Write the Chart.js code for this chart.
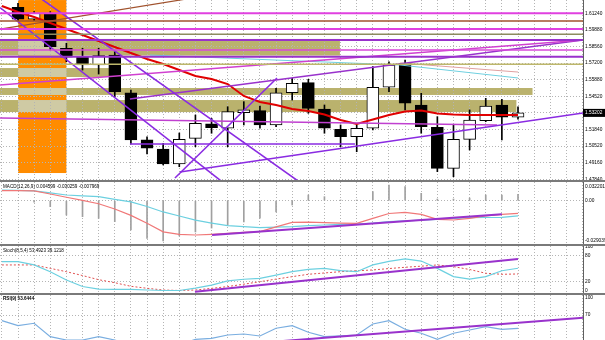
<!DOCTYPE html>
<html>
<head>
<meta charset="utf-8">
<script src="https://cdn.jsdelivr.net/npm/chart.js@4.4.1/dist/chart.umd.min.js"></script>
<style>
  html, body { margin: 0; padding: 0; background: #fff; }
  #wrap { position: relative; width: 605px; height: 340px; overflow: hidden; background: #fff; }
  #wrap canvas { position: absolute; left: 0; top: 0; }
  .sep { position: absolute; left: 0; width: 605px; height: 2px; background: #7a7a7a; }
  .lbl { position: absolute; left: 3px; font: 10px 'Liberation Sans', sans-serif; color: #000;
         white-space: nowrap; transform: scale(0.46, 0.55); transform-origin: left top; }
</style>
</head>
<body>
<div id="wrap">
  <canvas id="cMain" width="605" height="340"></canvas>
  <canvas id="cMacd" width="605" height="340"></canvas>
  <canvas id="cStoch" width="605" height="340"></canvas>
  <canvas id="cRsi" width="605" height="340"></canvas>
  <div class="sep" style="top:180px"></div>
  <div class="sep" style="top:244px"></div>
  <div class="sep" style="top:293px"></div>
  <div class="lbl" style="top:183px">MACD(12,26,9) 0.004599 -0.030259 -0.007969</div>
  <div class="lbl" style="top:247px">Stoch(8,5,4) 53.4923 39.1218</div>
  <div class="lbl" style="top:295px;font-weight:bold">RSI(9) 53.6444</div>
</div>
<script>
const XMIN = -1.116, XMAX = 35.03;

// candles, bar index 0..31
const opens  = [1.6172, 1.6076, 1.6124, 1.5842, 1.5769, 1.5707, 1.5787, 1.5483, 1.5102, 1.5029, 1.4908, 1.5115, 1.5231, 1.5196, 1.5322, 1.5338,
                1.5223, 1.5483, 1.5564, 1.5352, 1.5188, 1.5128, 1.5196, 1.5527, 1.5720, 1.5384, 1.5204, 1.4873, 1.5107, 1.5257, 1.5384, 1.5285];
const highs  = [1.6205, 1.6137, 1.6137, 1.5882, 1.5842, 1.5842, 1.5814, 1.5505, 1.5128, 1.5075, 1.5158, 1.5303, 1.5277, 1.5370, 1.5411, 1.5376,
                1.5519, 1.5599, 1.5591, 1.5384, 1.5223, 1.5223, 1.5693, 1.5733, 1.5747, 1.5478, 1.5290, 1.5223, 1.5344, 1.5438, 1.5430, 1.5370];
const lows   = [1.6064, 1.6064, 1.5828, 1.5733, 1.5666, 1.5634, 1.5451, 1.5069, 1.4989, 1.4900, 1.4886, 1.5047, 1.5156, 1.5047, 1.5223, 1.5196,
                1.5209, 1.5424, 1.5317, 1.5156, 1.5047, 1.5007, 1.5182, 1.5491, 1.5344, 1.5156, 1.4846, 1.4805, 1.5021, 1.5249, 1.5102, 1.5269];
const closes = [1.6076, 1.6124, 1.5854, 1.5769, 1.5707, 1.5782, 1.5491, 1.5102, 1.5035, 1.4908, 1.5107, 1.5236, 1.5201, 1.5330, 1.5344, 1.5223,
                1.5483, 1.5559, 1.5357, 1.5196, 1.5128, 1.5196, 1.5527, 1.5707, 1.5398, 1.5209, 1.4873, 1.5107, 1.5263, 1.5376, 1.5285, 1.53202];

// indicator series start one bar before the first candle (index -1 .. 31)
const maLine = [1.6183, 1.6134, 1.6094, 1.6046, 1.5997, 1.5949, 1.5900, 1.5852, 1.5804, 1.5755, 1.5715, 1.5666, 1.5618, 1.5594, 1.5553, 1.5457, 1.5408,
                1.5384, 1.5352, 1.5336, 1.5307, 1.5263, 1.5231, 1.5267, 1.5303, 1.5331, 1.5339, 1.5315, 1.5307, 1.5303, 1.5303, 1.5303, 1.5303];
const macdRed  = [0.0072, 0.0072, 0.0071, 0.0048, 0.0025, 0.0002, -0.0022, -0.0060, -0.0106, -0.0163, -0.0224, -0.0242, -0.0247, -0.0242, -0.0235, -0.0228, -0.0223,
                  -0.0189, -0.0156, -0.0154, -0.0158, -0.0161, -0.0163, -0.0127, -0.0092, -0.0084, -0.0098, -0.0134, -0.0139, -0.0127, -0.0110, -0.0098, -0.0091];
const macdCyan = [0.0076, 0.0074, 0.0071, 0.0056, 0.0041, 0.0035, 0.0029, 0.0010, -0.0009, -0.0042, -0.0081, -0.0110, -0.0140, -0.0161, -0.0180, -0.0187, -0.0194,
                  -0.0191, -0.0187, -0.0180, -0.0175, -0.0171, -0.0168, -0.0162, -0.0151, -0.0145, -0.0140, -0.0134, -0.0128, -0.0122, -0.0121, -0.0120, -0.0110];
// histogram, index 0..31
const macdHist = [0, -0.0010, -0.0043, -0.0103, -0.0115, -0.0127, -0.0151, -0.0211, -0.0271, -0.0290, -0.0254, -0.0225, -0.0197, -0.0175, -0.0153, -0.0125,
                  -0.0081, -0.0031, 0.0041, 0.0029, 0.0005, 0.0005, 0.0065, 0.0113, 0.0101, 0.0053, 0.0012, 0.0012, 0.0019, 0.0041, 0.0041, 0.0046];
const stochMain = [65.5, 65.5, 58, 42.7, 23.9, 9.1, 3, 2.7, 2.7, 1.1, 0, 0, 5.2, 12.3, 21.8, 25.5, 27.7,
                   34.8, 42.7, 48, 50.2, 45, 42.7, 58, 65.9, 71.6, 66.8, 50.2, 31.4, 25.7, 31.6, 44.8, 50.5];
const stochSignal = [58, 58, 58, 50.2, 42.7, 33.9, 24.5, 17.7, 9.5, 5, 1.1, 0, 1.1, 4.8, 8.9, 14.3, 20,
                     25.9, 31.4, 36.8, 39.8, 42.7, 44.8, 46.6, 49.8, 52.7, 55.2, 58, 54.1, 47.7, 39.1, 36.8, 37.5];
const rsiLine = [60.5, 51.9, 56, 33.2, 27.6, 27.6, 33.2, 27.6, 18, 14, 11, 19, 28.8, 30.5, 36.1, 37.8, 34.4,
                 47.5, 51.9, 40.7, 33.4, 34.7, 36.1, 54.8, 60.4, 45.8, 39, 28.8, 39, 44.6, 50.2, 45.8, 47.5];

// chart objects on the price panel
const levelPrices = [1.6124, 1.6062, 1.5997, 1.5955, 1.5909, 1.5828, 1.5774, 1.5712];
const levelColors = ['#e040e0', '#a0522d', '#e040e0', '#8c8c5e', '#9932cc', '#d848d8', '#9932cc', '#bdb76b'];
// [x1, price1, x2, price2] in bar index units
const trendLines = [
  [-1.116, 1.6170, 14.1, 1.4617],
  [-1.116, 1.6477, 19.03, 1.4617],
  [-1.116, 1.5997, 15.0, 1.6335],
  [-1.116, 1.5545, 35.03, 1.5908],
  [6.94, 1.5432, 35.03, 1.5908],
  [9.73, 1.4795, 16.06, 1.5602],
  [10.04, 1.4843, 35.03, 1.5319],
  [6.94, 1.5069, 20.89, 1.5069],
  [-1.116, 1.5279, 29.7, 1.5223],
  [23.68, 1.5723, 31, 1.5650]
];
const trendColors = ['#8a2be2', '#8a2be2', '#a0522d', '#d040d0', '#9932cc', '#8a2be2', '#8a2be2', '#8a2be2', '#c040d0', '#e0a0a0'];
const trendWidths = [1.6, 1.6, 1.2, 1.6, 1.6, 1.6, 1.6, 1.6, 1.6, 1];
const cyanLineX = [8.18, 23.68, 31];
const cyanLineY = [1.5787, 1.5707, 1.5602];
// [x1, x2, top price, bottom price]
const bands = [
  [-1.116, 19.96, 1.5917, 1.5783],
  [-1.116, 6, 1.5682, 1.5610],
  [-1.116, 31.9, 1.5521, 1.5465],
  [-1.116, 30.9, 1.5424, 1.5327]
];
const orangeZone = [0, 3, 1.6231, 1.4835];

const priceTicks = [1.6124, 1.5990, 1.5856, 1.5722, 1.5588, 1.5454, 1.5320, 1.5186, 1.5052, 1.4918, 1.4784];
const priceTickLabels = ['1.61240', '1.59880', '1.58560', '1.57200', '1.55880', '1.54520', '', '1.51840', '1.50520', '1.49160', '1.47840'];
const macdTicks = [0.0101, 0, -0.0288];
const macdTickLabels = ['0.032201', '0.00', '-0.029039'];
const stochTicks = [100, 80, 20, 0];
const stochTickLabels = ['100', '80', '20', '0'];
const rsiTicks = [100, 70];
const rsiTickLabels = ['100', '70'];

const macdTrend = [12.03, -0.0247, 30.0, -0.0098];
const stochTrend = [10.97, -2.7, 31.0, 71.5];
const rsiTrend = [16.43, 25.9, 35.03, 65.5];

const TICK_FONT = { family: 'Liberation Sans', size: 4.8 };
const GRID = '#b4b4b4';

function series(arr) { return arr.map((v, i) => ({ x: i - 1, y: v })); }
function seg(t) { return [{ x: t[0], y: t[1] }, { x: t[2], y: t[3] }]; }
function lineDs(data, color, width, extra) {
  return Object.assign({ type: 'line', data, borderColor: color, borderWidth: width, pointRadius: 0,
    fill: false, tension: 0, order: 1 }, extra || {});
}

function xAxis() {
  return {
    type: 'linear', min: XMIN, max: XMAX, offset: false,
    afterBuildTicks: s => { const t = []; for (let i = -1; i <= 35; i++) t.push({ value: i }); s.ticks = t; },
    afterFit: s => { s.height = 0; s.paddingLeft = 0; s.paddingRight = 0; },
    ticks: { display: false },
    grid: { drawTicks: false, color: GRID, lineWidth: 1, offset: false },
    border: { display: false, dash: [1, 2] }
  };
}
function yAxis(min, max, ticks, labels, gridOn) {
  return {
    position: 'right', min, max,
    afterBuildTicks: s => { s.ticks = ticks.map(v => ({ value: v })); },
    afterFit: s => { s.width = 22; s.paddingTop = 0; s.paddingBottom = 0; },
    ticks: { autoSkip: false, padding: 2, color: '#000', font: TICK_FONT, callback: (v, i) => labels[i] },
    grid: { drawTicks: false, lineWidth: 1,
            color: c => (c.tick && gridOn.includes(c.tick.value)) ? GRID : 'rgba(0,0,0,0)' },
    border: { display: true, color: '#606060', width: 1, dash: [1, 2] }
  };
}
function makeChart(id, padTop, padBottom, yScale, datasets, plugins) {
  return new Chart(document.getElementById(id), {
    type: 'line',
    data: { datasets },
    options: {
      responsive: false, animation: false, events: [],
      layout: { padding: { top: padTop, bottom: padBottom, left: 0, right: 0 } },
      plugins: { legend: { display: false }, tooltip: { enabled: false } },
      scales: { x: xAxis(), y: yScale }
    },
    plugins: plugins || []
  });
}

// rectangles drawn under the grid
const zonesPlugin = {
  id: 'zones',
  beforeDraw(chart) {
    const { ctx, chartArea: a, scales: { x, y } } = chart;
    const rect = (x1, x2, p1, p2) => {
      const l = x.getPixelForValue(x1), r = x.getPixelForValue(x2);
      const t = y.getPixelForValue(p1), b = y.getPixelForValue(p2);
      return [l, t, r - l, b - t];
    };
    ctx.save();
    ctx.beginPath(); ctx.rect(a.left, a.top, a.right - a.left, a.bottom - a.top); ctx.clip();
    ctx.fillStyle = '#ff8c00';
    ctx.fillRect(...rect(orangeZone[0], orangeZone[1], orangeZone[2], orangeZone[3]));
    bands.forEach(b => {
      ctx.fillStyle = '#bab26d';
      ctx.fillRect(...rect(b[0], b[1], b[2], b[3]));
      const ox1 = Math.max(b[0], orangeZone[0]), ox2 = Math.min(b[1], orangeZone[1]);
      const ot = Math.min(b[2], orangeZone[2]), ob = Math.max(b[3], orangeZone[3]);
      if (ox2 > ox1 && ot > ob) {
        ctx.fillStyle = '#cfcaa4';
        ctx.fillRect(...rect(ox1, ox2, ot, ob));
      }
    });
    ctx.restore();
  }
};

// current price marker on the axis
const priceBox = {
  id: 'priceBox',
  afterDraw(chart) {
    const { ctx, chartArea: a, scales: { y } } = chart;
    const last = closes[closes.length - 1];
    const py = y.getPixelForValue(last);
    ctx.save();
    ctx.fillStyle = '#000';
    ctx.fillRect(a.right, py - 4, 22, 8);
    ctx.fillStyle = '#fff';
    ctx.font = '4.8px "Liberation Sans"';
    ctx.textBaseline = 'middle';
    ctx.fillText(last.toFixed(5), a.right + 2, py);
    ctx.restore();
  }
};

// ---- price panel
const mainSets = [];
levelPrices.forEach((p, k) => mainSets.push(lineDs([{ x: XMIN, y: p }, { x: XMAX, y: p }], levelColors[k], k % 2 === 0 ? 2 : 1.5)));
trendLines.forEach((t, k) => mainSets.push(lineDs(seg(t), trendColors[k], trendWidths[k])));
mainSets.push(lineDs(cyanLineX.map((v, i) => ({ x: v, y: cyanLineY[i] })), '#6fd0e0', 1));
mainSets.push(lineDs(series(maLine), '#e00000', 2, { order: 2 }));
mainSets.push({
  type: 'bar', order: 3, grouped: false, barThickness: 12, borderWidth: 1, borderSkipped: false,
  borderColor: '#000',
  backgroundColor: opens.map((o, i) => closes[i] >= o ? '#ffffff' : '#000000'),
  data: opens.map((o, i) => ({ x: i, y: [o, closes[i]] }))
});
mainSets.push({
  type: 'bar', order: 4, grouped: false, barThickness: 1, backgroundColor: '#000',
  data: lows.map((l, i) => ({ x: i, y: [l, highs[i]] }))
});
makeChart('cMain', 0, 160, yAxis(1.47787, 1.62313, priceTicks, priceTickLabels, priceTicks), mainSets, [zonesPlugin, priceBox]);

// ---- MACD panel
makeChart('cMacd', 182, 96, yAxis(-0.03118, 0.01346, macdTicks, macdTickLabels, [0]), [
  lineDs(seg(macdTrend), '#9932cc', 2),
  lineDs(series(macdRed), '#f07878', 1.2, { order: 2 }),
  lineDs(series(macdCyan), '#6cd0e0', 1.2, { order: 2 }),
  { type: 'bar', order: 3, grouped: false, barThickness: 1, backgroundColor: '#a0a0a0',
    data: macdHist.map((v, i) => ({ x: i, y: v })) }
]);

// ---- Stochastic panel
makeChart('cStoch', 246, 47, yAxis(-5.7, 101, stochTicks, stochTickLabels, [80, 20]), [
  lineDs(seg(stochTrend), '#9932cc', 2),
  lineDs(series(stochMain), '#6cd0e0', 1.2, { order: 2 }),
  lineDs(series(stochSignal), '#e05050', 1, { order: 2, borderDash: [2, 2] })
]);

// ---- RSI panel
makeChart('cRsi', 295, 0, yAxis(27.6, 104, rsiTicks, rsiTickLabels, [70]), [
  lineDs(seg(rsiTrend), '#9932cc', 2),
  lineDs(series(rsiLine), '#7aaee0', 1.2, { order: 2 })
]);
</script>
</body>
</html>
